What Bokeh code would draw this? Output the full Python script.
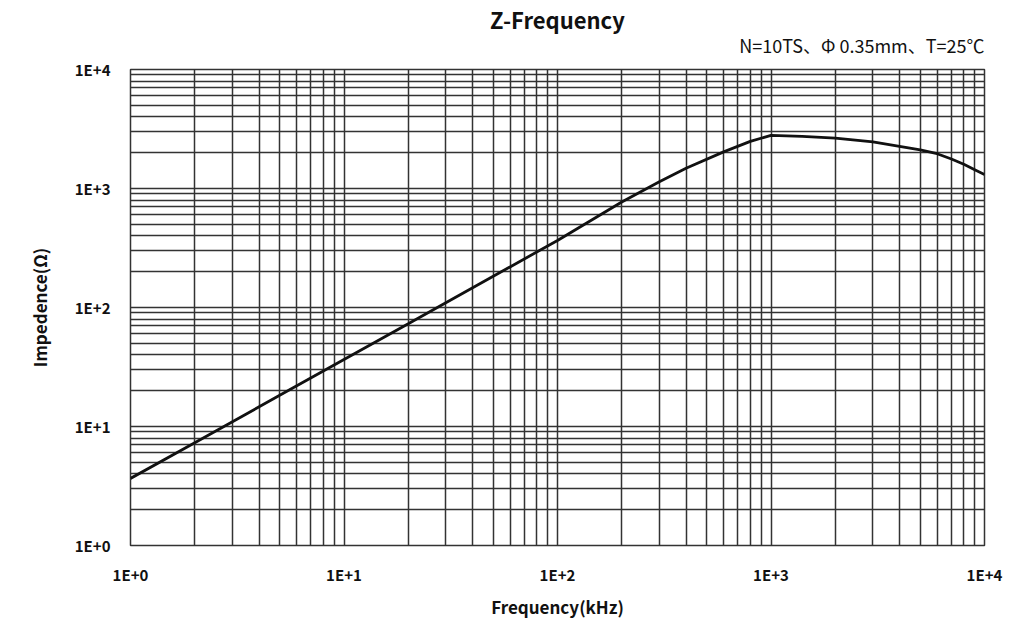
from bokeh.plotting import figure
from bokeh.models import FixedTicker, CustomJSTickFormatter, Title, ColumnDataSource
from bokeh.embed import file_html
from bokeh.resources import INLINE

# Data
freq_khz = [1, 2, 5, 10, 20, 50, 100, 200, 300, 400, 600, 800, 1000,
            1400, 2000, 3000, 4000, 5000, 6000, 7000, 8000, 9000, 10000]
impedance = [3.66, 7.3, 18.3, 36.6, 73, 183, 366, 770, 1140, 1480, 2030, 2490, 2800,
             2740, 2650, 2460, 2260, 2110, 1960, 1770, 1600, 1440, 1310]

decades = [1, 10, 100, 1000, 10000]
minor = [m * d for d in decades[:-1] for m in range(2, 10)]

TITLE = "Z-Frequency"
SUBTITLE = "N=10TS、Φ 0.35mm、T=25℃"

FONT = "Noto Sans CJK SC"

p = figure(width=1020, height=622, x_axis_type="log", y_axis_type="log",
           x_range=(1, 10000), y_range=(1, 10000),
           output_backend="svg", toolbar_location=None,
           min_border_left=130, min_border_right=36,
           min_border_top=69, min_border_bottom=77)

p.title.text = TITLE
p.title.align = "center"
p.title.text_font = FONT
p.title.text_font_size = "22px"
p.title.text_font_style = "bold"
p.title.text_color = "#111111"
p.title.standoff = -34

sub = Title(text=SUBTITLE, align="right", text_font=FONT,
            text_font_size="18px", text_font_style="normal", text_color="#111111",
            standoff=24)
p.add_layout(sub, "above")

src = ColumnDataSource(dict(f=freq_khz, z=impedance))
p.line("f", "z", source=src, line_color="#111111", line_width=2.8)

fmt = CustomJSTickFormatter(code="return '1E+' + Math.round(Math.log10(tick)).toString();")
for ax in (p.xaxis[0], p.yaxis[0]):
    ax.ticker = FixedTicker(ticks=decades, minor_ticks=minor)
    ax.formatter = fmt
    ax.major_tick_line_color = None
    ax.minor_tick_line_color = None
    ax.major_tick_out = 0
    ax.minor_tick_out = 0
    ax.major_tick_in = 0
    ax.minor_tick_in = 0
    ax.axis_line_color = None
    ax.major_label_text_font = FONT
    ax.major_label_text_font_size = "15px"
    ax.major_label_text_font_style = "bold"
    ax.major_label_text_color = "#111111"
    ax.axis_label_text_font = FONT
    ax.axis_label_text_font_size = "17px"
    ax.axis_label_text_font_style = "bold"
    ax.axis_label_text_color = "#111111"

p.xaxis.axis_label = "Frequency(kHz)"
p.yaxis.axis_label = "Impedence(Ω)"
p.xaxis.major_label_standoff = 18
p.yaxis.major_label_standoff = 20
p.xaxis.axis_label_standoff = 6
p.yaxis.axis_label_standoff = 20

for g in (p.xgrid[0], p.ygrid[0]):
    g.grid_line_color = "#333333"
    g.grid_line_width = 1.5
    g.minor_grid_line_color = "#333333"
    g.minor_grid_line_width = 1.5

p.outline_line_color = "#333333"
p.outline_line_width = 1.5
p.background_fill_color = "white"
p.border_fill_color = "white"

open("out.html", "w").write(file_html(p, INLINE))
